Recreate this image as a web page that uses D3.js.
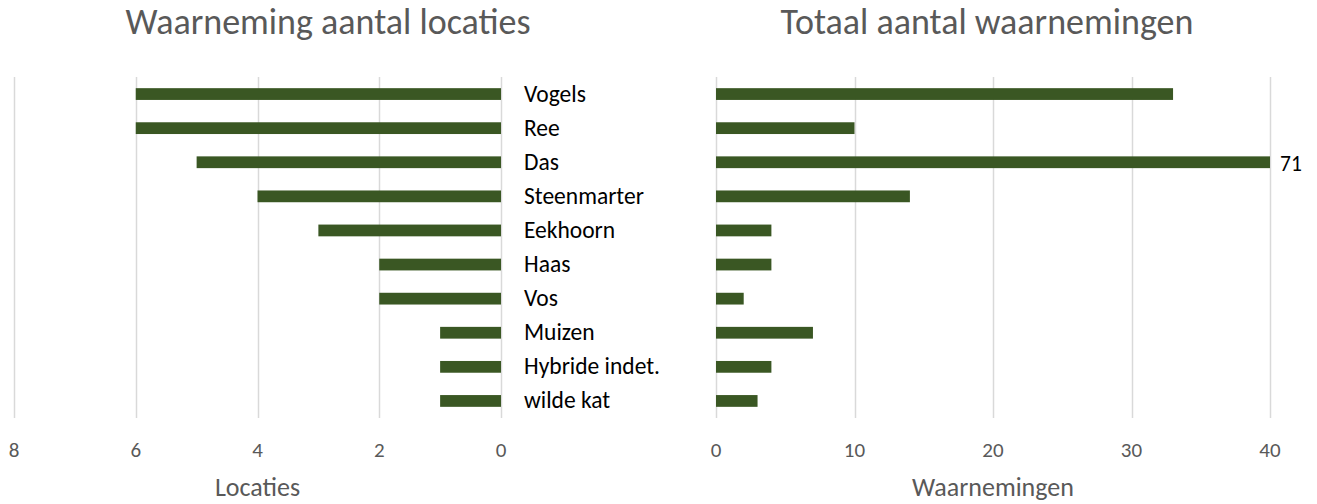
<!DOCTYPE html>
<html>
<head>
<meta charset="utf-8">
<script src="https://cdn.jsdelivr.net/npm/d3@7"></script>
<style>
  body { margin: 0; background: #fff; }
  svg text { font-family: Carlito, Lato, "Open Sans", sans-serif; }
</style>
</head>
<body>
<svg id="chart" width="1317" height="504"></svg>
<script>
const categories = ["Vogels", "Ree", "Das", "Steenmarter", "Eekhoorn", "Haas", "Vos", "Muizen", "Hybride indet.", "wilde kat"];
const locaties = [6, 6, 5, 4, 3, 2, 2, 1, 1, 1];
const waarnemingen = [33, 10, 71, 14, 4, 4, 2, 7, 4, 3];
const leftTicks = [8, 6, 4, 2, 0];
const rightTicks = [0, 10, 20, 30, 40];

const barColor = "#3a5723", gridColor = "#d9d9d9", greyText = "#595959";
const plotTop = 77, plotBottom = 418;
const svg = d3.select("#chart");

const y = d3.scaleBand().domain(categories).range([plotTop, plotBottom]);
const barH = y.bandwidth() * 0.345;

// left panel: reversed axis, 0 at right
const xL = d3.scaleLinear().domain([0, 8]).range([501, 14]);
// right panel: capped at 40
const xR = d3.scaleLinear().domain([0, 40]).range([716, 1270]);

function grid(x, ticks) {
    svg.append("g")
        .selectAll("line")
        .data(ticks)
        .join("line")
        .attr("x1", d => Math.round(x(d)) + 0.5)
        .attr("x2", d => Math.round(x(d)) + 0.5)
        .attr("y1", plotTop)
        .attr("y2", plotBottom)
        .attr("stroke", gridColor)
        .attr("stroke-width", 1.5);

    svg.append("g")
        .selectAll("text")
        .data(ticks)
        .join("text")
        .attr("x", d => x(d))
        .attr("y", 457)
        .attr("text-anchor", "middle")
        .attr("fill", greyText)
        .attr("font-size", "21px")
        .text(d => d);
}

grid(xL, leftTicks);
grid(xR, rightTicks);

// left bars
svg.append("g")
    .selectAll("rect")
    .data(categories)
    .join("rect")
    .attr("x", (d, i) => xL(locaties[i]))
    .attr("width", (d, i) => xL(0) - xL(locaties[i]))
    .attr("y", d => y(d) + (y.bandwidth() - barH) / 2)
    .attr("height", barH)
    .attr("fill", barColor);

// right bars
svg.append("g")
    .selectAll("rect")
    .data(categories)
    .join("rect")
    .attr("x", xR(0))
    .attr("width", (d, i) => xR(Math.min(waarnemingen[i], 40)) - xR(0))
    .attr("y", d => y(d) + (y.bandwidth() - barH) / 2)
    .attr("height", barH)
    .attr("fill", barColor);

// label for value beyond axis
svg.append("g")
    .selectAll("text")
    .data(categories.filter((d, i) => waarnemingen[i] > 40))
    .join("text")
    .attr("x", xR(40) + 10)
    .attr("y", d => y(d) + y.bandwidth() / 2)
    .attr("dy", "0.40em")
    .attr("font-size", "21.5px")
    .attr("fill", "#000")
    .text(d => waarnemingen[categories.indexOf(d)]);

// category labels in the middle
svg.append("g")
    .selectAll("text")
    .data(categories)
    .join("text")
    .attr("x", 524)
    .attr("y", d => y(d) + y.bandwidth() / 2)
    .attr("dy", "0.32em")
    .attr("font-size", "23.5px")
    .attr("fill", "#000")
    .text(d => d);

// titles (centred over each half of the picture)
svg.append("text")
    .attr("x", 328)
    .attr("y", 34)
    .attr("text-anchor", "middle")
    .attr("font-size", "36px")
    .attr("fill", greyText)
    .text("Waarneming aantal locaties");

svg.append("text")
    .attr("x", 987)
    .attr("y", 34)
    .attr("text-anchor", "middle")
    .attr("font-size", "36px")
    .attr("fill", greyText)
    .text("Totaal aantal waarnemingen");

// axis titles
svg.append("text")
    .attr("x", (xL(0) + xL(8)) / 2)
    .attr("y", 496)
    .attr("text-anchor", "middle")
    .attr("font-size", "26px")
    .attr("fill", greyText)
    .text("Locaties");

svg.append("text")
    .attr("x", (xR(0) + xR(40)) / 2)
    .attr("y", 496)
    .attr("text-anchor", "middle")
    .attr("font-size", "26px")
    .attr("fill", greyText)
    .text("Waarnemingen");
</script>
</body>
</html>
